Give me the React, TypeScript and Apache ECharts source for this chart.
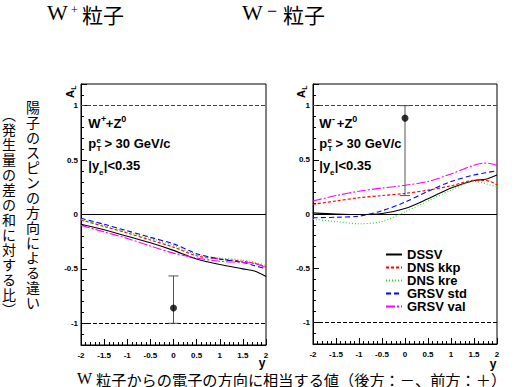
import React, { useEffect, useRef } from "react";
import * as echarts from "echarts";

// rapidity points at which the curves are sampled
const Y_POINTS = [-2, -1.5, -1, -0.5, 0, 0.5, 1, 1.5, 1.75, 2];

// W+ panel curves (A_L)
const WP_DSSV = [-0.09, -0.14, -0.2, -0.26, -0.33, -0.41, -0.46, -0.5, -0.52, -0.57];
const WP_DNS_KKP = [-0.05, -0.11, -0.17, -0.235, -0.3, -0.38, -0.41, -0.43, -0.45, -0.48];
const WP_DNS_KRE = [-0.045, -0.1, -0.16, -0.22, -0.285, -0.37, -0.4, -0.42, -0.44, -0.47];
const WP_GRSV_STD = [-0.035, -0.09, -0.15, -0.21, -0.27, -0.36, -0.41, -0.44, -0.47, -0.5];
const WP_GRSV_VAL = [-0.1, -0.16, -0.22, -0.29, -0.355, -0.4, -0.43, -0.44, -0.45, -0.49];

// W- panel curves (A_L)
const WM_DSSV = [0.01, 0.0, -0.005, 0.005, 0.05, 0.14, 0.24, 0.31, 0.32, 0.36];
const WM_DNS_KKP = [0.09, 0.12, 0.15, 0.17, 0.19, 0.22, 0.26, 0.31, 0.31, 0.27];
const WM_DNS_KRE = [-0.05, -0.07, -0.09, -0.07, 0.02, 0.12, 0.22, 0.3, 0.28, 0.25];
const WM_GRSV_STD = [-0.035, -0.03, -0.02, 0.03, 0.11, 0.21, 0.3, 0.36, 0.38, 0.4];
const WM_GRSV_VAL = [0.12, 0.17, 0.21, 0.24, 0.265, 0.3, 0.37, 0.45, 0.47, 0.45];

// projected data points: [y, A_L, low, high]
const WP_POINT = [0, -0.86, -1.0, -0.565];
const WM_POINT = [0, 0.885, 0.17, 1.0];

// reference lines
const REF_LEVELS = [1, 0, -1];

const MODEL_NAMES = ["DSSV", "DNS kkp", "DNS kre", "GRSV std", "GRSV val"];
const MODEL_COLORS = ["#000000", "#ff0000", "#22dd22", "#0000ff", "#ff00ff"];
const MODEL_DASH: any[] = ["solid", [3, 2], [1, 2], [5, 3], [9, 2, 2, 2]];

const VERT_1 = "陽子のスピンの方向による違い";
const VERT_2 = "︵発生量の差の和に対する比︶";

const SANS = "'Liberation Sans', Arial, sans-serif";
const SERIF = "'Liberation Serif', 'Times New Roman', serif";
const CJK = "'Noto Sans CJK JP', sans-serif";

export default function App() {
  const ref = useRef<HTMLDivElement>(null);
  useEffect(() => {
    if (!ref.current) return;
    const chart = echarts.init(ref.current, undefined, { renderer: "svg" });

    const wp = [WP_DSSV, WP_DNS_KKP, WP_DNS_KRE, WP_GRSV_STD, WP_GRSV_VAL];
    const wm = [WM_DSSV, WM_DNS_KKP, WM_DNS_KRE, WM_GRSV_STD, WM_GRSV_VAL];

    const xAxisCommon = (gi: number) => ({
      type: "value",
      gridIndex: gi,
      min: -2,
      max: 2,
      interval: 0.5,
      axisLine: { show: true, onZero: false, lineStyle: { color: "#000", width: 1 } },
      axisTick: { show: true, inside: true, length: 6, lineStyle: { color: "#000" } },
      minorTick: { show: true, splitNumber: 5, length: 3, lineStyle: { color: "#000" } },
      splitLine: { show: false },
      minorSplitLine: { show: false },
      axisLabel: {
        color: "#000",
        fontSize: 8,
        fontWeight: "bold",
        fontFamily: SANS,
        margin: 6,
      },
    });
    const yMajor = (gi: number) => ({
      type: "value",
      gridIndex: gi,
      min: -1.2,
      max: 1.2,
      position: "left",
      axisLine: { show: true, onZero: false, lineStyle: { color: "#000", width: 1 } },
      axisTick: { show: true, inside: true, length: 6, lineStyle: { color: "#000" } },
      splitLine: { show: false },
      axisLabel: {
        color: "#000",
        fontSize: 8,
        fontWeight: "bold",
        fontFamily: SANS,
        margin: 3,
        formatter: (v: number) =>
          Math.abs(v * 2 - Math.round(v * 2)) < 1e-6 ? String(Math.round(v * 2) / 2) : "",
      },
    });
    const yMinor = (gi: number) => ({
      type: "value",
      gridIndex: gi,
      min: -1.2,
      max: 1.2,
      interval: 0.1,
      position: "left",
      axisLine: { show: false, onZero: false },
      axisTick: { show: true, inside: true, length: 3, lineStyle: { color: "#000" } },
      splitLine: { show: false },
      axisLabel: { show: false },
    });

    const refLines = {
      silent: true,
      symbol: "none",
      label: { show: false },
      data: REF_LEVELS.map((v) => ({
        yAxis: v,
        lineStyle: {
          color: v === 0 ? "#000" : v > 0 ? "#444" : "#000",
          width: 1,
          type: v === 0 ? "solid" : [4, 2],
        },
      })),
    };

    const curveSeries = (sets: number[][], xi: number, yi: number) =>
      sets.map((vals, k) => ({
        type: "line",
        name: MODEL_NAMES[k],
        xAxisIndex: xi,
        yAxisIndex: yi,
        data: Y_POINTS.map((y, i) => [y, vals[i]]),
        smooth: 0.3,
        symbol: "none",
        showSymbol: false,
        z: 5,
        lineStyle: { color: MODEL_COLORS[k], width: 1.1, type: MODEL_DASH[k] },
        itemStyle: { color: MODEL_COLORS[k] },
        markLine: k === 0 ? refLines : undefined,
      }));

    const errSeries = (pt: number[], xi: number, yi: number) => ({
      type: "custom",
      xAxisIndex: xi,
      yAxisIndex: yi,
      z: 6,
      data: [pt],
      encode: { x: 0, y: [2, 3] },
      renderItem: (params: any, api: any) => {
        const x = api.value(0);
        const lo = api.coord([x, api.value(2)]);
        const hi = api.coord([x, api.value(3)]);
        const w = 5;
        const st = { stroke: "#555", lineWidth: 1 };
        return {
          type: "group",
          children: [
            { type: "line", shape: { x1: lo[0], y1: lo[1], x2: hi[0], y2: hi[1] }, style: st },
            { type: "line", shape: { x1: hi[0] - w, y1: hi[1], x2: hi[0] + w, y2: hi[1] }, style: st },
            { type: "line", shape: { x1: lo[0] - w, y1: lo[1], x2: lo[0] + w, y2: lo[1] }, style: st },
          ],
        };
      },
    });
    const pointSeries = (pt: number[], xi: number, yi: number) => ({
      type: "scatter",
      xAxisIndex: xi,
      yAxisIndex: yi,
      z: 7,
      symbol: "circle",
      symbolSize: 7,
      itemStyle: { color: "#000" },
      data: [[pt[0], pt[1]]],
    });

    const bold = (text: string, x: number, y: number, size = 13, extra: any = {}) => ({
      type: "text",
      x,
      y,
      style: {
        text,
        fill: "#000",
        font: `bold ${size}px ${SANS}`,
        verticalAlign: "middle",
        ...extra,
      },
    });

    const panelText = (x0: number, sign: string) => [
      bold("W", x0, 123.5),
      bold(sign, x0 + 12.6, 118.5, 9),
      bold("+Z", x0 + 17.5, 123.5),
      bold("0", x0 + 33, 118.5, 9),
      bold("p", x0, 143.5),
      bold("e", x0 + 8.3, 140, 8),
      bold("T", x0 + 8.1, 148.5, 8),
      bold(" > 30 GeV/c", x0 + 12.5, 143.5),
      bold("|y", x0, 165.5),
      bold("e", x0 + 10.8, 172.5, 8),
      bold("|<0.35", x0 + 15.5, 165.5),
    ];

    const alLabel = (cx: number) => [
      {
        type: "text",
        x: cx,
        y: 94,
        rotation: Math.PI / 2,
        style: { text: "A", fill: "#000", font: `bold 11px ${SANS}`, align: "center", verticalAlign: "middle" },
      },
      {
        type: "text",
        x: cx + 3.8,
        y: 87.5,
        rotation: Math.PI / 2,
        style: { text: "L", fill: "#000", font: `bold 7px ${SANS}`, align: "center", verticalAlign: "middle" },
      },
    ];

    const vertical = (text: string, cx: number, top: number) =>
      text.split("").map((ch, i) => ({
        type: "text",
        x: cx,
        y: top + 7.5 + i * 15,
        style: { text: ch, fill: "#000", font: `14px ${CJK}`, align: "center", verticalAlign: "middle" },
      }));

    const option: any = {
      animation: false,
      backgroundColor: "#ffffff",
      grid: [
        { left: 81, top: 84, width: 185, height: 261, show: true, borderColor: "#000", borderWidth: 1, backgroundColor: "transparent" },
        { left: 313, top: 84, width: 184, height: 260, show: true, borderColor: "#000", borderWidth: 1, backgroundColor: "transparent" },
      ],
      xAxis: [xAxisCommon(0), xAxisCommon(1)],
      yAxis: [yMajor(0), yMinor(0), yMajor(1), yMinor(1)],
      legend: {
        data: MODEL_NAMES,
        orient: "vertical",
        left: 380,
        top: 243,
        itemWidth: 16,
        itemHeight: 10,
        itemGap: 0,
        selectedMode: false,
        itemStyle: { opacity: 0, borderWidth: 0 },
        textStyle: { color: "#000", fontSize: 13, fontWeight: "bold", fontFamily: SANS, padding: [0, 0, 0, 0] },
      },
      series: [
        ...curveSeries(wp, 0, 0),
        ...curveSeries(wm, 1, 2),
        errSeries(WP_POINT, 0, 0),
        errSeries(WM_POINT, 1, 2),
        pointSeries(WP_POINT, 0, 0),
        pointSeries(WM_POINT, 1, 2),
      ],
      graphic: [
        // titles
        { type: "text", x: 47, y: 12.5, style: { text: "W", fill: "#000", font: `22px ${SERIF}`, verticalAlign: "middle" } },
        { type: "text", x: 71, y: 9.5, style: { text: "+", fill: "#000", font: `12px ${SERIF}`, verticalAlign: "middle" } },
        { type: "text", x: 82, y: 13.5, style: { text: "粒子", fill: "#000", font: `21px ${CJK}`, verticalAlign: "middle" } },
        { type: "text", x: 242, y: 12.5, style: { text: "W", fill: "#000", font: `22px ${SERIF}`, verticalAlign: "middle" } },
        { type: "text", x: 267, y: 10.5, style: { text: "−", fill: "#000", font: `18px ${SERIF}`, verticalAlign: "middle" } },
        { type: "text", x: 283, y: 13.5, style: { text: "粒子", fill: "#000", font: `21px ${CJK}`, verticalAlign: "middle" } },
        // in-panel texts
        ...panelText(88.3, "+"),
        ...panelText(319.3, "-"),
        ...alLabel(69.5),
        ...alLabel(300.5),
        bold("y", 262, 362.5, 12, { align: "center" }),
        bold("y", 493, 364, 12, { align: "center" }),
        // bottom axis caption
        { type: "text", x: 77, y: 378.5, style: { text: "W", fill: "#000", font: `16px ${SERIF}`, verticalAlign: "middle" } },
        {
          type: "text",
          x: 96,
          y: 378.5,
          style: { text: "粒子からの電子の方向に相当する値（後方：－、前方：＋）", fill: "#000", font: `15.2px ${CJK}`, verticalAlign: "middle" },
        },
        // vertical caption
        ...vertical(VERT_1, 33, 99.5),
        ...vertical(VERT_2, 9, 106),
      ],
    };
    chart.setOption(option);
    return () => chart.dispose();
  }, []);
  return (
    <div
      ref={ref}
      style={{ position: "absolute", left: 0, top: 0, width: 517, height: 387, background: "#fff" }}
    />
  );
}
